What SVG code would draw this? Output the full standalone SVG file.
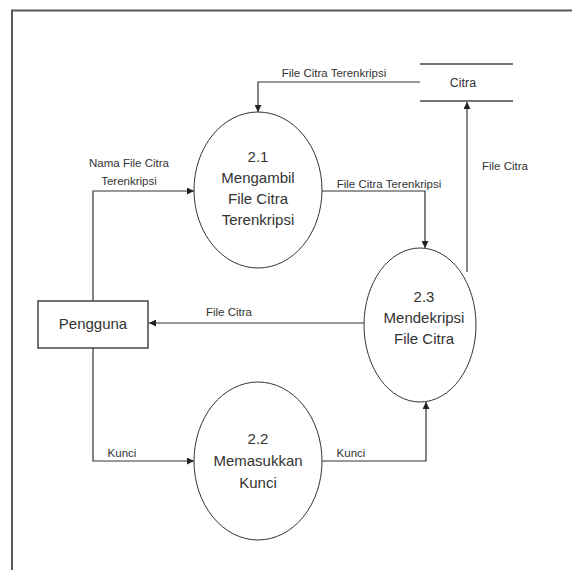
<svg xmlns="http://www.w3.org/2000/svg" width="572" height="570" viewBox="0 0 572 570">
<defs>
<style>
.frame{stroke:#5a5a5a;stroke-width:2;fill:none}
.proc{fill:#fff;stroke:#333;stroke-width:1}
.ent{fill:#fff;stroke:#444;stroke-width:1.5}
.store{stroke:#444;stroke-width:1.5}
.flow{fill:none;stroke:#333;stroke-width:1.2}
.t{font-family:"Liberation Sans",Arial,sans-serif;fill:#333;text-anchor:middle}
.big{font-size:15px}
.small{font-size:11.5px}
</style>
<marker id="ah" viewBox="0 0 10 10" refX="10" refY="5" markerWidth="7" markerHeight="7" markerUnits="userSpaceOnUse" orient="auto">
<path d="M0,0 L10,5 L0,10 z" fill="#222"/>
</marker>
</defs>
<rect width="572" height="570" fill="#fff"/>
<path class="frame" d="M12,570 V10.5 H572"/>

<g id="store-citra">
<line class="store" x1="420" y1="64" x2="513" y2="64"/>
<line class="store" x1="420" y1="101" x2="513" y2="101"/>
<text class="t" font-size="12.5" x="463" y="87">Citra</text>
</g>

<g id="p21">
<ellipse class="proc" cx="258" cy="190" rx="64" ry="78"/>
<text class="t big" x="258" y="162">2.1</text>
<text class="t big" x="258" y="183">Mengambil</text>
<text class="t big" x="258" y="204">File Citra</text>
<text class="t big" x="258" y="225">Terenkripsi</text>
</g>

<g id="p22">
<ellipse class="proc" cx="258" cy="461" rx="64" ry="79"/>
<text class="t big" x="258" y="444">2.2</text>
<text class="t big" x="258" y="466">Memasukkan</text>
<text class="t big" x="258" y="488">Kunci</text>
</g>

<g id="p23">
<ellipse class="proc" cx="420" cy="325" rx="56" ry="77"/>
<text class="t big" x="424" y="302">2.3</text>
<text class="t big" x="424" y="323">Mendekripsi</text>
<text class="t big" x="424" y="344">File Citra</text>
</g>

<g id="pengguna">
<rect class="ent" x="38" y="301" width="110" height="47"/>
<text class="t big" x="93" y="329">Pengguna</text>
</g>

<g id="connectors">
<path class="flow" d="M420,82 H258 V112" marker-end="url(#ah)"/>
<text class="t small" x="334" y="77">File Citra Terenkripsi</text>

<path class="flow" d="M93,301 V191 H194" marker-end="url(#ah)"/>
<text class="t small" x="129" y="167">Nama File Citra</text>
<text class="t small" x="129" y="185">Terenkripsi</text>

<path class="flow" d="M322,191 H425 V248" marker-end="url(#ah)"/>
<text class="t small" x="389" y="188">File Citra Terenkripsi</text>

<path class="flow" d="M364,323 H149" marker-end="url(#ah)"/>
<text class="t small" x="229" y="316">File Citra</text>

<path class="flow" d="M467,272 V102" marker-end="url(#ah)"/>
<text class="t small" x="505" y="170">File Citra</text>

<path class="flow" d="M93,348 V461 H194" marker-end="url(#ah)"/>
<text class="t small" x="122" y="457">Kunci</text>

<path class="flow" d="M322,461 H426 V402" marker-end="url(#ah)"/>
<text class="t small" x="351" y="457">Kunci</text>
</g>
</svg>
